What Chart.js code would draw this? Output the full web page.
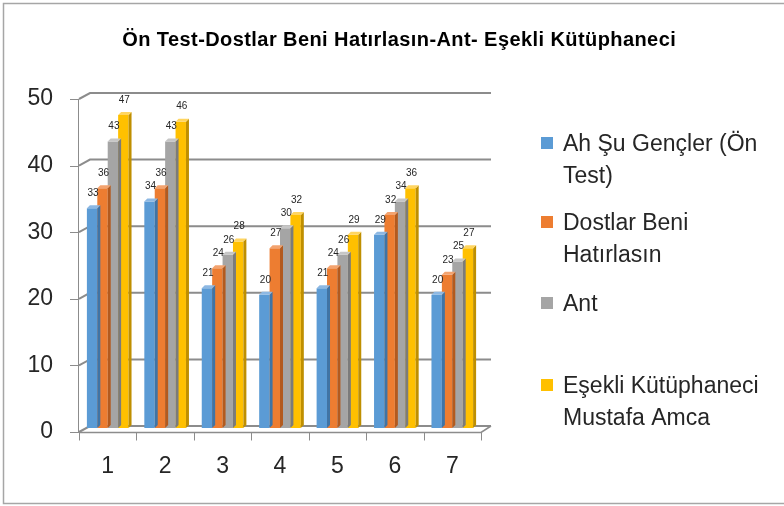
<!DOCTYPE html>
<html>
<head>
<meta charset="utf-8">
<script src="https://cdn.jsdelivr.net/npm/chart.js@4"></script>
<style>
html,body{margin:0;padding:0;background:#fff;}
#wrap{position:relative;width:784px;height:506px;}
canvas{display:block;}
</style>
</head>
<body>
<div id="wrap"><canvas id="c" width="784" height="506"></canvas></div>
<script>
const title = 'Ön Test-Dostlar Beni Hatırlasın-Ant- Eşekli Kütüphaneci';
const categories = ['1', '2', '3', '4', '5', '6', '7'];
const seriesNames = ['Ah Şu Gençler (Ön Test)', 'Dostlar Beni Hatırlasın', 'Ant', 'Eşekli Kütüphaneci Mustafa Amca'];
const legendLines = [['Ah Şu Gençler (Ön', 'Test)'], ['Dostlar Beni', 'Hatırlasın'], ['Ant'], ['Eşekli Kütüphaneci', 'Mustafa Amca']];
const ahSuGencler = [33, 34, 21, 20, 21, 29, 20];
const dostlarBeni = [36, 36, 24, 27, 24, 32, 23];
const ant = [43, 43, 26, 30, 26, 34, 25];
const esekli = [47, 46, 28, 32, 29, 36, 27];
const yTicks = [0, 10, 20, 30, 40, 50];

const colors = ['#5B9BD5', '#ED7D31', '#A5A5A5', '#FFC000'];
const sideColors = ['#3F74A6', '#B35A1E', '#7B7B7B', '#BF8F00'];
const topColors = ['#8DB8E3', '#F3A36F', '#C6C6C6', '#FFD560'];

const FONT = '"Liberation Sans", Arial, sans-serif';
const depth = 3;

const deco = {
  id: 'deco',
  beforeDatasetsDraw(chart) {
    const ctx = chart.ctx;
    const y = chart.scales.y, a = chart.chartArea;
    const L = a.left, R = a.right;
    ctx.save();
    // outer border
    ctx.strokeStyle = '#A6A6A6';
    ctx.lineWidth = 1.5;
    ctx.strokeRect(3.5, 3.5, 800, 500);
    // title
    ctx.fillStyle = '#000000';
    ctx.font = 'bold 20px ' + FONT;
    ctx.textAlign = 'center';
    ctx.textBaseline = 'middle';
    const w = ctx.measureText(title).width;
    const ls = Math.max(0, (554 - w) / title.length);
    ctx.letterSpacing = ls.toFixed(2) + 'px';
    ctx.fillText(title, 399 + ls / 2, 40);
    ctx.letterSpacing = '0px';
    // back wall gridlines + left wall diagonals
    ctx.strokeStyle = '#8C8C8C';
    ctx.lineWidth = 2;
    yTicks.forEach(v => {
      const yb = y.getPixelForValue(v) - 2;
      const yf = y.getPixelForValue(v) + 4;
      ctx.beginPath();
      ctx.moveTo(L, yf);
      ctx.lineTo(L + 11, yb);
      ctx.lineTo(R + 10, yb);
      ctx.stroke();
    });
    ctx.lineWidth = 1;
    // front y axis line
    ctx.beginPath();
    ctx.moveTo(L - 0.5, y.getPixelForValue(50) + 4);
    ctx.lineTo(L - 0.5, y.getPixelForValue(0) + 4);
    ctx.stroke();
    // y ticks
    yTicks.forEach(v => {
      const yf = Math.round(y.getPixelForValue(v) + 4) + 0.5;
      ctx.beginPath();
      ctx.moveTo(L - 9, yf);
      ctx.lineTo(L, yf);
      ctx.stroke();
    });
    // floor
    const y0f = Math.round(y.getPixelForValue(0) + 4) + 0.5;
    const y0b = y.getPixelForValue(0) - 2;
    ctx.lineWidth = 1.5;
    ctx.beginPath();
    ctx.moveTo(L, y0f);
    ctx.lineTo(R, y0f);
    ctx.lineTo(R + 10, y0b);
    ctx.stroke();
    // x category ticks
    ctx.lineWidth = 1;
    const step = (R - L) / categories.length;
    for (let i = 0; i <= categories.length; i++) {
      const xx = Math.round(L + i * step) + 0.5;
      ctx.beginPath();
      ctx.moveTo(xx, y0f);
      ctx.lineTo(xx, y0f + 8);
      ctx.stroke();
    }
    ctx.restore();
  },
  afterDatasetsDraw(chart) {
    const ctx = chart.ctx;
    ctx.save();
    chart.data.datasets.forEach((ds, di) => {
      const meta = chart.getDatasetMeta(di);
      meta.data.forEach((bar) => {
        const p = bar.getProps(['x', 'y', 'base', 'width'], true);
        const xl = p.x - p.width / 2, xr = p.x + p.width / 2;
        ctx.fillStyle = sideColors[di];
        ctx.beginPath();
        ctx.moveTo(xr, p.y);
        ctx.lineTo(xr + depth, p.y - depth);
        ctx.lineTo(xr + depth, p.base - depth);
        ctx.lineTo(xr, p.base);
        ctx.closePath();
        ctx.fill();
        ctx.fillStyle = topColors[di];
        ctx.beginPath();
        ctx.moveTo(xl, p.y);
        ctx.lineTo(xl + depth, p.y - depth);
        ctx.lineTo(xr + depth, p.y - depth);
        ctx.lineTo(xr, p.y);
        ctx.closePath();
        ctx.fill();
      });
    });
    // data labels
    ctx.fillStyle = '#262626';
    ctx.font = '10px ' + FONT;
    ctx.textAlign = 'center';
    ctx.textBaseline = 'middle';
    chart.data.datasets.forEach((ds, di) => {
      const meta = chart.getDatasetMeta(di);
      meta.data.forEach((bar, i) => {
        const p = bar.getProps(['x', 'y'], true);
        ctx.fillText(String(ds.data[i]), p.x + 1, p.y - 15);
      });
    });
    // legend
    const lx = 541, boxSize = 12;
    const baselines = [151, 230, 311, 393];
    ctx.font = '23px ' + FONT;
    ctx.textAlign = 'left';
    ctx.textBaseline = 'alphabetic';
    legendLines.forEach((lines, k) => {
      ctx.fillStyle = colors[k];
      ctx.fillRect(lx, baselines[k] - 14, boxSize, boxSize);
      ctx.fillStyle = '#262626';
      lines.forEach((t, j) => ctx.fillText(t, lx + 22, baselines[k] + j * 32));
    });
    ctx.restore();
  }
};

const data = {
  labels: categories,
  datasets: [
    { label: seriesNames[0], data: ahSuGencler, backgroundColor: colors[0] },
    { label: seriesNames[1], data: dostlarBeni, backgroundColor: colors[1] },
    { label: seriesNames[2], data: ant, backgroundColor: colors[2] },
    { label: seriesNames[3], data: esekli, backgroundColor: colors[3] }
  ]
};

new Chart(document.getElementById('c'), {
  type: 'bar',
  data,
  plugins: [deco],
  options: {
    responsive: false,
    animation: false,
    layout: { padding: { left: 0, right: 303, top: 95, bottom: 0 } },
    datasets: { bar: { categoryPercentage: 0.725, barPercentage: 1.0, borderWidth: 0 } },
    plugins: {
      legend: { display: false },
      tooltip: { enabled: false },
      title: { display: false }
    },
    scales: {
      x: {
        grid: { display: false, drawTicks: false },
        border: { display: false },
        ticks: { color: '#262626', padding: 25, font: { family: FONT, size: 23 } },
        afterFit: s => { s.height = 78; }
      },
      y: {
        min: 0, max: 50,
        afterBuildTicks: s => { s.ticks = yTicks.map(v => ({ value: v })); },
        grid: { display: false, drawTicks: false },
        border: { display: false },
        ticks: { color: '#262626', padding: 26, labelOffset: 4, font: { family: FONT, size: 23 } },
        afterFit: s => { s.width = 79; }
      }
    }
  }
});
</script>
</body>
</html>
